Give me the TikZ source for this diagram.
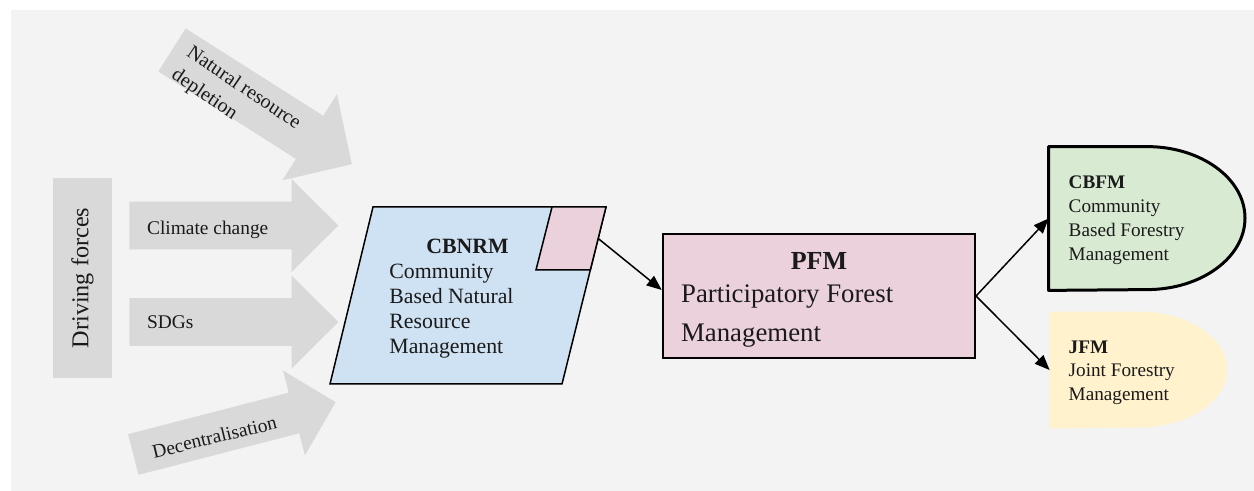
\documentclass[tikz,border=0pt]{standalone}
\usepackage{fontspec}
\setmainfont{Liberation Serif}
\newfontfamily\labelserif{Liberation Serif}
\usetikzlibrary{arrows.meta}

\definecolor{canvasgray}{HTML}{F3F3F3}
\definecolor{forcegray}{HTML}{D9D9D9}
\definecolor{paleblue}{HTML}{CFE2F3}
\definecolor{palepink}{HTML}{EAD1DC}
\definecolor{palegreen}{HTML}{D9EAD3}
\definecolor{paleyellow}{HTML}{FFF2CC}
\definecolor{inktext}{HTML}{1A1A1A}

% block arrow: #1,#2 start of shaft (centre), #3 angle,
% #4 total length, #5 shaft half width, #6 head length, #7 head half width
\newcommand{\fatarrow}[7]{%
  \begin{scope}[shift={(#1,#2)},rotate=#3]
    \fill[forcegray] (0,-#5) -- ({#4-#6},-#5) -- ({#4-#6},-#7) -- (#4,0)
      -- ({#4-#6},#7) -- ({#4-#6},#5) -- (0,#5) -- cycle;
  \end{scope}}

\begin{document}
\begin{tikzpicture}[x=0.5pt,y=-0.5pt,
  every node/.style={text=inktext},
  forcelabel/.style={inner sep=0pt, font=\labelserif\fontsize{9.7}{11.5}\selectfont},
  bodytext/.style={inner sep=0pt, align=left},
  conn/.style={draw=black, line width=0.75pt,
    -{Triangle[length=7.5pt,width=6pt]}}]

% page and canvas
\useasboundingbox (0,0) rectangle (1254,491);
\fill[white] (0,0) rectangle (1254,491);
\fill[canvasgray] (11,10) rectangle (1254,491);

% driving forces
\node[fill=forcegray, minimum width=100pt, minimum height=29.5pt, rotate=90,
      font=\labelserif\fontsize{12.1}{14}\selectfont] (driving) at (82.5,278) {Driving forces};

\fatarrow{172}{50}{-32.4}{213}{25.5}{50}{51}
\fatarrow{129.3}{225.5}{0}{209}{23.8}{46.7}{46.5}
\fatarrow{129.3}{322}{0}{209}{23.8}{46.7}{46.5}
\fatarrow{133.3}{454.5}{14.5}{209}{21}{43}{43.8}

\node[forcelabel, align=left, anchor=west, rotate=-34,
      font=\labelserif\fontsize{10}{13.5}\selectfont] (natural) at (180.6,62.6)
      {Natural resource\\depletion};
\node[forcelabel, anchor=west] (climate) at (146.7,230) {Climate change};
\node[forcelabel, anchor=west] (sdgs) at (146.7,322.5) {SDGs};
\node[forcelabel, rotate=13.5] (decentral) at (214.5,437) {Decentralisation};

% CBNRM parallelogram with its pink corner tab
\coordinate (cb-nw) at (373,207);
\coordinate (cb-ne) at (606,207);
\coordinate (cb-se) at (562,384);
\coordinate (cb-sw) at (330,384);
\draw[fill=paleblue, line width=0.75pt] (cb-nw) -- (cb-ne) -- (cb-se) -- (cb-sw) -- cycle;
\draw[fill=palepink, line width=0.75pt] (552,207) -- (cb-ne) -- (590.3,270) -- (536,270) -- cycle;
\coordinate (tab) at (598.2,238.5);
\node[inner sep=0pt, font=\labelserif\fontsize{10.9}{12.5}\selectfont\bfseries] (cbnrmtitle)
      at (467.5,246.2) {CBNRM};
\node[bodytext, anchor=west, font=\labelserif\fontsize{10.9}{12.5}\selectfont] (cbnrm)
      at (389,311.5) {Community\\Based Natural\\Resource\\Management};

% PFM
\node[draw=black, fill=palepink, line width=1pt, minimum width=156.15pt,
      minimum height=62pt, inner sep=0pt] (pfm) at (818.9,296) {};
\node[inner sep=0pt, font=\labelserif\fontsize{13}{15}\selectfont\bfseries] (pfmtitle)
      at (818.9,260.8) {PFM};
\node[bodytext, anchor=west, font=\labelserif\fontsize{13.4}{19.5}\selectfont] (pfmtext)
      at (680.7,316) {Participatory Forest\\Management};

% CBFM
\node[minimum width=98pt, minimum height=71.5pt, inner sep=0pt] (cbfm) at (1147,218.5) {};
\draw[fill=palegreen, line width=1.5pt, line join=round]
  (cbfm.north west) -- (cbfm.north) arc[start angle=90, end angle=-90,
  x radius=49pt, y radius=35.75pt] -- (cbfm.south west) -- cycle;
\node[bodytext, anchor=west, font=\labelserif\fontsize{9.6}{12}\selectfont] (cbfmtext)
      at (1068.3,220) {\textbf{CBFM}\\Community\\Based Forestry\\Management};

% JFM
\node[minimum width=88.5pt, minimum height=58pt, inner sep=0pt] (jfm) at (1138.5,370) {};
\fill[paleyellow] (jfm.north west) -- (jfm.north) arc[start angle=90, end angle=-90,
  x radius=44.25pt, y radius=29pt] -- (jfm.south west) -- cycle;
\node[bodytext, anchor=west, font=\labelserif\fontsize{9.6}{11.8}\selectfont] (jfmtext)
      at (1068.3,372.7) {\textbf{JFM}\\Joint Forestry\\Management};

% connectors
\draw[conn] (tab) -- ([yshift=3pt]pfm.west);
\draw[conn] (pfm.east) -- (cbfm.west);
\draw[conn] (pfm.east) -- (jfm.west);
\end{tikzpicture}
\end{document}
